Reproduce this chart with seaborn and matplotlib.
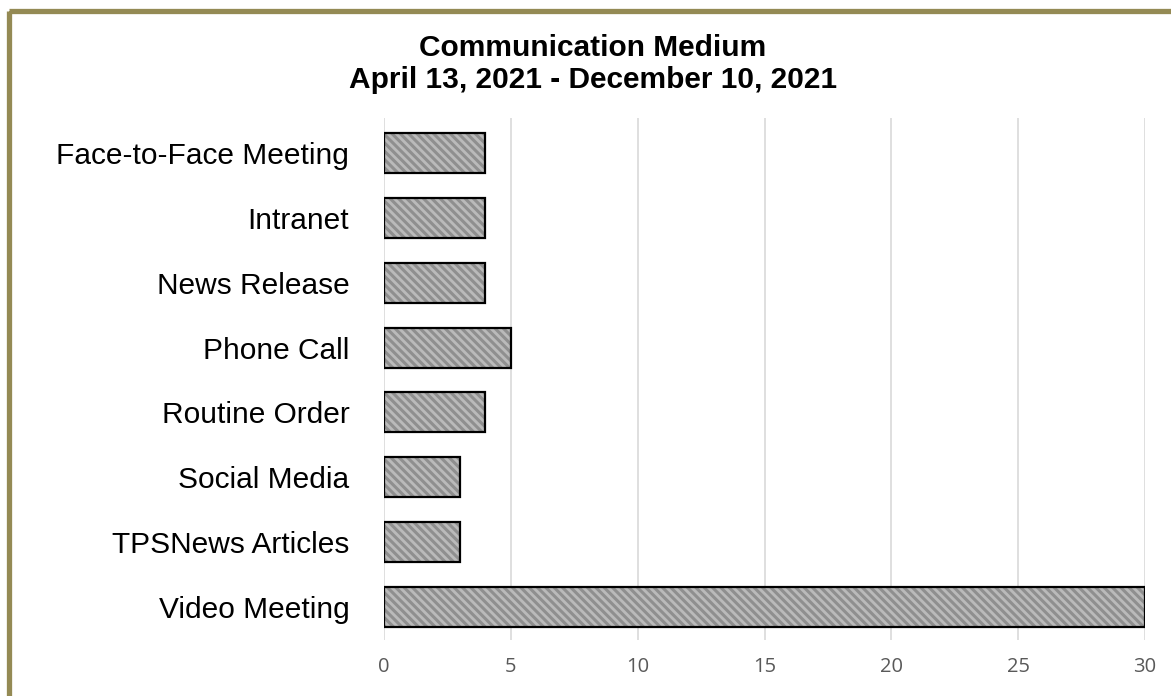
import matplotlib
matplotlib.use("Agg")
import matplotlib.pyplot as plt
import seaborn as sns
import pandas as pd
from matplotlib.patches import Rectangle

categories = ["Face-to-Face Meeting", "Intranet", "News Release", "Phone Call",
              "Routine Order", "Social Media", "TPSNews Articles", "Video Meeting"]
counts = [4, 4, 4, 5, 4, 3, 3, 30]
x_ticks = [0, 5, 10, 15, 20, 25, 30]
title_lines = ["Communication Medium", "April 13, 2021 - December 10, 2021"]

df = pd.DataFrame({"medium": categories, "count": counts})

sns.set_theme(style="white")
plt.rcParams["font.family"] = ["Liberation Sans", "DejaVu Sans"]
plt.rcParams["hatch.linewidth"] = 2.2

W, H = 1171, 696
fig = plt.figure(figsize=(W / 100, H / 100), dpi=100)
ax = fig.add_axes([384 / W, 1 - 640 / H, (1145 - 384) / W, (640 - 118) / H])

sns.barplot(data=df, y="medium", x="count", orient="h", ax=ax,
            color="#bababa", edgecolor="#8f8f8f", linewidth=0,
            hatch="\\\\\\\\", width=0.617, saturation=1, zorder=2)
sns.barplot(data=df, y="medium", x="count", orient="h", ax=ax,
            fill=False, color="black", linewidth=1.6, width=0.617, zorder=3)

ax.set_xlim(0, 30)
ax.set_ylim(7.51, -0.54)
ax.set_xticks(x_ticks)
ax.set_xticklabels([str(t) for t in x_ticks], fontfamily="Open Sans",
                   fontsize=14.5, color="#595959")
ax.tick_params(axis="x", length=0, pad=12)
ax.tick_params(axis="y", length=0, pad=25, labelsize=21.5, labelcolor="black")
ax.set_xlabel("")
ax.set_ylabel("")
ax.grid(axis="x", color="#d9d9d9", linewidth=1.2, zorder=0)
ax.set_axisbelow(True)
for s in ax.spines.values():
    s.set_visible(False)

fig.text(593 / W, 1 - 48 / H, title_lines[0], ha="center", va="center",
         fontsize=21.5, fontweight="bold", color="black")
fig.text(593 / W, 1 - 80 / H, title_lines[1], ha="center", va="center",
         fontsize=21.5, fontweight="bold", color="black")

border = Rectangle((8.5 / W, 1 - 10.5 / H), (1200 - 8.5) / W, -(720) / H,
                   transform=fig.transFigure, fill=False,
                   edgecolor="#948a54", linewidth=3.8, clip_on=False)
fig.add_artist(border)

fig.savefig("out.png", dpi=100)
